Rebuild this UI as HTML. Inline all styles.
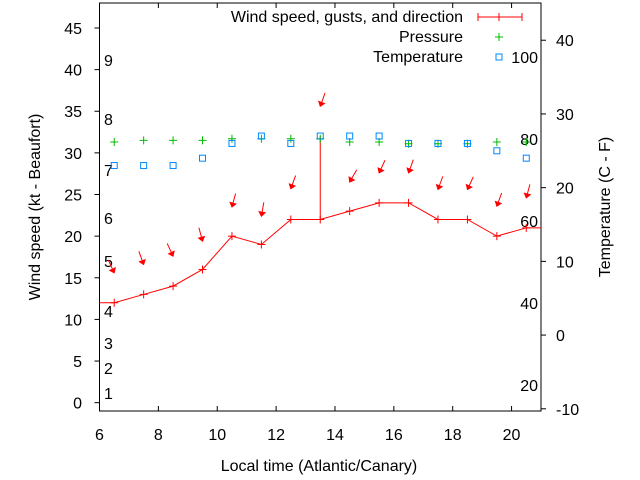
<!DOCTYPE html>
<html><head><meta charset="utf-8"><style>
body{margin:0;background:#fff}
svg{display:block;font-family:"Liberation Sans",sans-serif;font-size:16px}
</style></head><body>
<svg id="chart" width="640" height="480">
<g id="grid"></g>
</svg>
<script>
const hours=[6.5,7.5,8.5,9.5,10.5,11.5,12.5,13.5,14.5,15.5,16.5,17.5,18.5,19.5,20.5];
const windSpeed=[12,13,14,16,20,19,22,22,23,24,24,22,22,20,21];
const gustHour=[13.5];
const gustValue=[32];
const arrowSpeed=[15.6,16.6,17.6,19.4,23.5,22.4,25.7,35.6,26.5,27.6,27.6,25.6,25.6,23.6,24.6];
const arrowDir=[-25,-20,-25,-15,15,10,20,20,30,25,20,20,25,20,15];
const pressure=[31.3,31.5,31.5,31.5,31.7,31.7,31.7,31.7,31.3,31.3,31.1,31.1,31.1,31.3,31.3];
const temperature=[23,23,23,24,26,27,26,27,27,27,26,26,26,25,24];
const xTicks=[6,8,10,12,14,16,18,20];
const yTicks=[0,5,10,15,20,25,30,35,40,45];
const y2Ticks=[-10,0,10,20,30,40];
const beaufort=[[1,393],[2,368],[3,343],[4,311],[5,261],[6,218],[7,170],[8,119],[9,60]];
const fahrenheit=[[20,385],[40,303],[60,221],[80,139],[100,57]];

const L=99.5,R=541,T=3,B=411;
const X=v=>L+(v-6)/(21-6)*(R-L);
const Y=v=>B-(v+1)/(48+1)*(B-T);
const Y2=v=>B-(v+10.3)/(45.05+10.3)*(B-T);
const svg=document.getElementById('chart');
const NS='http://www.w3.org/2000/svg';
function mk(tag,attrs,parent){const e=document.createElementNS(NS,tag);for(const k in attrs)e.setAttribute(k,attrs[k]);(parent||svg).appendChild(e);return e;}
function txt(x,y,s,anchor,extra){const t=mk('text',Object.assign({x:x,y:y,'text-anchor':anchor||'start',fill:'#000'},extra||{}));t.textContent=s;return t;}

let frame=mk('rect',{x:L,y:T,width:R-L,height:B-T,fill:'none',stroke:'#000','stroke-width':1});



xTicks.forEach(v=>{
  const x=X(v);
  let t=mk('line',{x1:x,y1:B,x2:x,y2:B-5,stroke:'#000'});
  
  
  mk('line',{x1:x,y1:T,x2:x,y2:T+5,stroke:'#000'});
  let l=txt(x,440,String(v),'middle');
  
  
});
yTicks.forEach(v=>{
  const y=Y(v);
  let t=mk('line',{x1:L-5,y1:y,x2:L,y2:y,stroke:'#000'});
  
  
  let l=txt(82,y+6,String(v),'end');
  
  
});
y2Ticks.forEach(v=>{
  const y=Y2(v);
  let t=mk('line',{x1:R,y1:y,x2:R+5,y2:y,stroke:'#000'});
  
  
  let l=txt(556,y+6,String(v),'start');
  
  
});
beaufort.forEach(b=>{
  let l=txt(104,b[1]+6,String(b[0]));
  
  
});
fahrenheit.forEach(f=>{
  let l=txt(538,f[1]+6,String(f[0]),'end');
  
  
});

let xt=txt(319,471,'Local time (Atlantic/Canary)','middle');


let yt=txt(0,0,'Wind speed (kt - Beaufort)','middle',{transform:'translate(40,207) rotate(-90)'});


let y2t=txt(0,0,'Temperature (C - F)','middle',{transform:'translate(610,207) rotate(-90)'});



// wind line
let pts=[[X(6),Y(windSpeed[0])]];
hours.forEach((h,i)=>{
  pts.push([X(h),Y(windSpeed[i])]);
  if(gustHour.indexOf(h)>=0){const g=gustValue[gustHour.indexOf(h)];pts.push([X(h),Y(g)]);pts.push([X(h),Y(windSpeed[i])]);}
});
pts.push([X(21),Y(windSpeed[windSpeed.length-1])]);
let wl=mk('polyline',{points:pts.map(p=>p.join(',')).join(' '),fill:'none',stroke:'#f00','stroke-width':1});


hours.forEach((h,i)=>{
  const x=X(h),y=Y(windSpeed[i]);
  let p=mk('path',{d:`M${x-4},${y}H${x+4}M${x},${y-4}V${y+4}`,stroke:'#f00'});
  
  
});
// arrows
hours.forEach((h,i)=>{
  const x=X(h),y=Y(arrowSpeed[i]);
  const a=arrowDir[i]*Math.PI/180;
  const tx=x+Math.sin(a)*14,ty=y-Math.cos(a)*14;
  const g=mk('g',{});
  
  
  mk('line',{x1:tx,y1:ty,x2:x,y2:y,stroke:'#f00'},g);
  const ux=(x-tx)/14,uy=(y-ty)/14;
  const bx=x-ux*4,by=y-uy*4;
  mk('polygon',{points:`${x},${y} ${bx-uy*3},${by+ux*3} ${bx+uy*3},${by-ux*3}`,fill:'#f00',stroke:'#f00'},g);
});
// pressure
hours.forEach((h,i)=>{
  const x=X(h),y=Y(pressure[i]);
  let p=mk('path',{d:`M${x-4},${y}H${x+4}M${x},${y-4}V${y+4}`,stroke:'#0b0'});
  
  
});
// temperature
hours.forEach((h,i)=>{
  const x=X(h),y=Y2(temperature[i]);
  let r=mk('rect',{x:x-3,y:y-3,width:6,height:6,fill:'none',stroke:'#08f','stroke-width':1});
  
  
});
// legend
let t1=txt(463,22,'Wind speed, gusts, and direction','end');


mk('path',{d:'M478,17H522M478,13V21M522,13V21M499,13V21',stroke:'#f00'});
let t2=txt(463,42,'Pressure','end');


mk('path',{d:'M495,37H503M499,33V41',stroke:'#0b0'});
let t3=txt(463,62,'Temperature','end');


mk('rect',{x:496,y:54,width:6,height:6,fill:'none',stroke:'#08f'});
</script>
</body></html>
